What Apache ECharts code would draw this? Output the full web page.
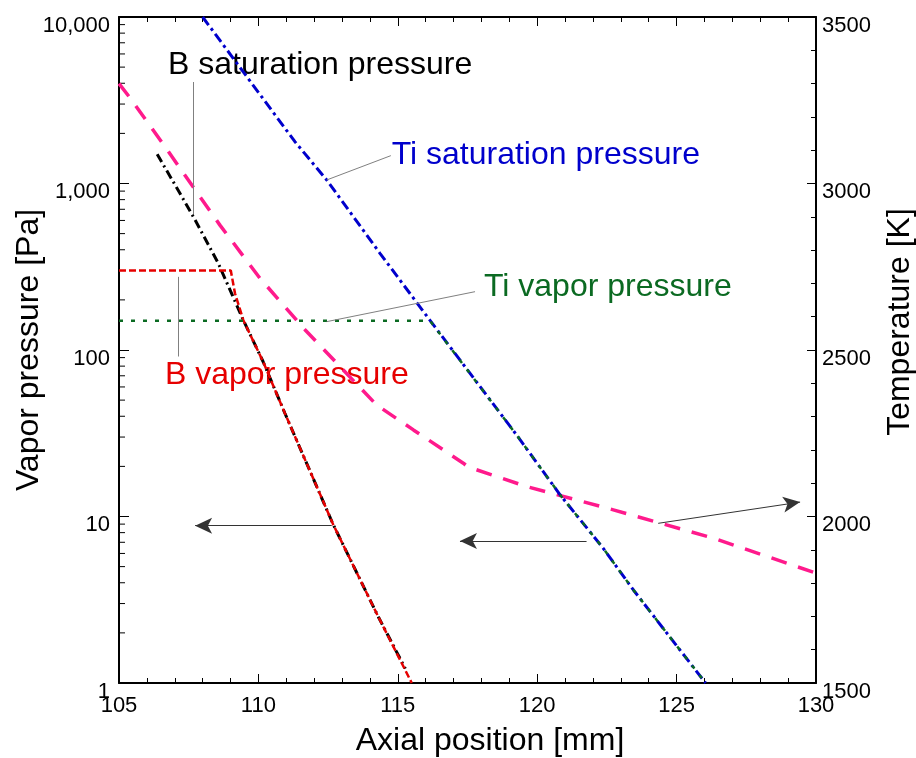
<!DOCTYPE html>
<html>
<head>
<meta charset="utf-8">
<script src="https://cdn.jsdelivr.net/npm/echarts@6/dist/echarts.min.js"></script>
<style>
html,body{margin:0;padding:0;background:#fff;}
#chart{width:916px;height:758px;}
</style>
</head>
<body>
<div id="chart"></div>
<script>
// ---- data ----
const xTicks = [105, 130, 5];            // min, max, interval of axial position [mm]
const tempTicks = [1500, 3500, 500];     // min, max, interval of temperature [K]
const pressTicks = [1, 10000];           // vapor pressure range [Pa]

// Temperature profile (right axis)
const tempX = [105.0, 105.36, 106.05, 106.73, 107.63, 108.62, 110.06, 111.67, 112.93, 114.24, 115.56, 117.35, 117.52, 119.62, 122.73, 126.32, 130.0];
const tempK = [3300, 3261, 3181, 3101, 2993, 2875, 2715, 2561, 2450, 2335, 2260, 2160, 2149, 2090, 2020, 1935, 1830];

// B saturation pressure
const bSatX = [106.37, 107.19, 107.73, 108.56, 109.46, 110.17, 110.95, 112.69, 114.30, 115.27];
const bSatP = [1500, 870, 604, 332, 151, 85, 41.7, 8.9, 2.5, 1.22];

// B vapor pressure
const bVapX = [105.0, 109.01, 109.16, 109.46, 110.17, 110.95, 112.69, 114.30, 115.50];
const bVapP = [300, 300, 219, 151, 85, 41.7, 8.9, 2.5, 1.0];

// Ti saturation pressure
const tiSatX = [108.0, 111.31, 112.45, 114.36, 116.15, 119.26, 120.82, 122.37, 123.45, 126.04];
const tiSatP = [10000, 1783, 1050, 381, 151, 30.9, 13.5, 6.44, 3.62, 1.0];

// Ti vapor pressure
const tiVapX = [105.0, 116.15, 119.26, 120.82, 122.37, 123.45, 126.04];
const tiVapP = [150, 150, 30.9, 13.5, 6.44, 3.62, 1.0];

// Annotations (data coordinates: mm, Pa)
const noteTexts  = ['B saturation pressure', 'Ti saturation pressure', 'Ti vapor pressure', 'B vapor pressure'];
const noteX      = [106.76, 114.78, 118.09, 106.65];
const noteP      = [5150, 1483, 240, 70.5];
const noteColors = ['#000000', '#0000cc', '#0b6a22', '#e60000'];

// Leader lines [x1, p1, x2, p2]
const leaderLines = [
  [107.65, 4070, 107.65, 656],
  [112.45, 1050, 114.75, 1470],
  [112.45, 148, 117.77, 224],
  [107.13, 275, 107.13, 91.4]
];
// Arrows [xFrom, pFrom, xTo, pTo]
const arrowLines = [
  [112.63, 8.81, 107.73, 8.81],
  [121.77, 7.13, 117.23, 7.13],
  [124.34, 9.1, 129.43, 12.2]
];

// ---- chart ----
const FONT = 'Liberation Sans, Arial, Helvetica, sans-serif';
const zip = (a, b) => a.map((v, i) => [v, b[i]]);
const commas = v => String(Math.round(v)).replace(/\B(?=(\d{3})+(?!\d))/g, ',');

const logMinorTicks = [];
for (let d = pressTicks[0]; d < pressTicks[1]; d *= 10) {
  for (let m = 2; m <= 9; m++) logMinorTicks.push(d * m);
}

const chart = echarts.init(document.getElementById('chart'), null, {renderer: 'canvas'});

const xAxisBase = {
  type: 'value', min: xTicks[0], max: xTicks[1], interval: xTicks[2],
  axisLine: {show: true, onZero: false, lineStyle: {color: '#000', width: 2}},
  axisTick: {show: true, inside: true, length: 9, lineStyle: {color: '#000', width: 1}},
  minorTick: {show: true, splitNumber: 5, length: 5, lineStyle: {color: '#000', width: 1}},
  splitLine: {show: false}, minorSplitLine: {show: false}
};

const option = {
  animation: false,
  backgroundColor: '#fff',
  textStyle: {fontFamily: FONT},
  grid: {left: 119, right: 100, top: 17, bottom: 75, containLabel: false, outerBoundsMode: 'none'},
  xAxis: [
    Object.assign({}, xAxisBase, {
      position: 'bottom',
      name: 'Axial position [mm]', nameLocation: 'middle', nameGap: 42, nameMoveOverlap: false,
      nameTextStyle: {fontSize: 32, color: '#000', fontFamily: FONT, padding: [0, 0, 0, 45]},
      axisLabel: {fontSize: 22, color: '#000', margin: 12, fontFamily: FONT}
    }),
    Object.assign({}, xAxisBase, {
      position: 'top',
      axisLabel: {show: false}
    })
  ],
  yAxis: [
    {
      type: 'log', logBase: 10, min: pressTicks[0], max: pressTicks[1], splitNumber: 4,
      position: 'left',
      name: 'Vapor pressure [Pa]', nameLocation: 'middle', nameGap: 74, nameRotate: 90, nameMoveOverlap: false,
      nameTextStyle: {fontSize: 32, color: '#000', fontFamily: FONT},
      axisLine: {show: true, onZero: false, lineStyle: {color: '#000', width: 2}},
      axisTick: {show: true, inside: true, length: 10, lineStyle: {color: '#000', width: 1}},
      axisLabel: {fontSize: 22, color: '#000', margin: 9, fontFamily: FONT, verticalAlign: 'top', lineHeight: 17, formatter: commas},
      splitLine: {show: false}
    },
    {
      type: 'value', min: tempTicks[0], max: tempTicks[1], interval: tempTicks[2],
      position: 'right',
      name: 'Temperature [K]', nameLocation: 'middle', nameGap: 68, nameRotate: 90, nameMoveOverlap: false,
      nameTextStyle: {fontSize: 32, color: '#000', fontFamily: FONT, padding: [0, 0, 0, 56]},
      axisLine: {show: true, onZero: false, lineStyle: {color: '#000', width: 2}},
      axisTick: {show: true, inside: true, length: 9, lineStyle: {color: '#000', width: 1}},
      minorTick: {show: true, splitNumber: 5, length: 5, lineStyle: {color: '#000', width: 1}},
      axisLabel: {fontSize: 22, color: '#000', margin: 6, fontFamily: FONT, verticalAlign: 'top', lineHeight: 17, formatter: v => String(v)},
      splitLine: {show: false}, minorSplitLine: {show: false}
    }
  ],
  series: [
    {
      name: 'log minor ticks', type: 'custom', xAxisIndex: 0, yAxisIndex: 0, silent: true, clip: false,
      data: logMinorTicks.map(v => [xTicks[0], v]),
      renderItem: (params, api) => {
        const p = api.coord([api.value(0), api.value(1)]);
        return {type: 'line', shape: {x1: p[0], y1: p[1], x2: p[0] + 6, y2: p[1]},
                style: {stroke: '#000', lineWidth: 1}};
      }
    },
    {
      name: 'Temperature', type: 'line', xAxisIndex: 0, yAxisIndex: 1,
      data: zip(tempX, tempK), showSymbol: false, symbol: 'none',
      lineStyle: {color: '#ff1a8c', width: 3.5, type: [16, 12]}
    },
    {
      name: 'B saturation pressure', type: 'line', xAxisIndex: 0, yAxisIndex: 0,
      data: zip(bSatX, bSatP), showSymbol: false, symbol: 'none',
      lineStyle: {color: '#000', width: 3, type: [9, 4, 2, 4]}
    },
    {
      name: 'B vapor pressure', type: 'line', xAxisIndex: 0, yAxisIndex: 0,
      data: zip(bVapX, bVapP), showSymbol: false, symbol: 'none',
      lineStyle: {color: '#e60000', width: 2.5, type: [7, 3]}
    },
    {
      name: 'Ti saturation pressure', type: 'line', xAxisIndex: 0, yAxisIndex: 0,
      data: zip(tiSatX, tiSatP), showSymbol: false, symbol: 'none',
      lineStyle: {color: '#0000cc', width: 3, type: [10, 4, 3, 4]}
    },
    {
      name: 'Ti vapor pressure', type: 'line', xAxisIndex: 0, yAxisIndex: 0,
      data: zip(tiVapX, tiVapP), showSymbol: false, symbol: 'none',
      lineStyle: {color: '#0b6a22', width: 2.5, type: [4, 8]}
    },
    {
      name: 'annotations', type: 'scatter', xAxisIndex: 0, yAxisIndex: 0, silent: true,
      symbolSize: 0, itemStyle: {opacity: 1},
      data: noteTexts.map((t, i) => ({
        value: [noteX[i], noteP[i]],
        label: {show: true, position: 'right', distance: 0, formatter: t, opacity: 1,
                color: noteColors[i], fontSize: 32, fontFamily: FONT, textBorderWidth: 0}
      })),
      markLine: {
        silent: true, animation: false, symbol: ['none', 'none'],
        label: {show: false},
        lineStyle: {color: '#808080', width: 1, type: 'solid', opacity: 1},
        data: leaderLines.map(l => [{coord: [l[0], l[1]]}, {coord: [l[2], l[3]]}]).concat(
          arrowLines.map(a => [
            {coord: [a[0], a[1]], symbol: 'none', lineStyle: {color: '#333', width: 1, type: 'solid'}},
            {coord: [a[2], a[3]], symbol: 'arrow', symbolSize: [12, 17], lineStyle: {color: '#333', width: 1, type: 'solid'}}
          ]))
      }
    }
  ]
};
chart.setOption(option);
</script>
</body>
</html>
